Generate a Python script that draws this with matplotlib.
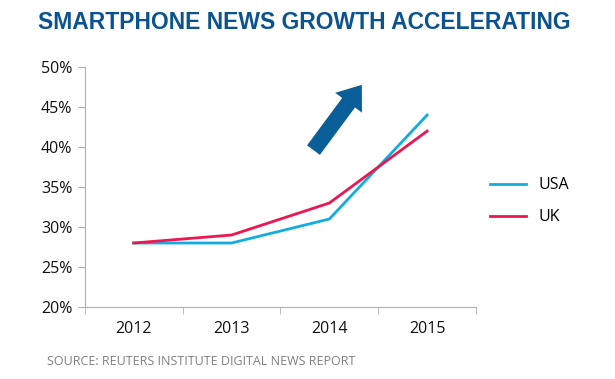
import matplotlib
matplotlib.use("Agg")
from matplotlib import pyplot as plt
from matplotlib.ticker import FixedLocator

years = ["2012", "2013", "2014", "2015"]
usa = [28, 28, 31, 44]
uk = [28, 29, 33, 42]
yticks = [20, 25, 30, 35, 40, 45, 50]

plt.rcParams['font.family'] = ['Open Sans', 'DejaVu Sans']

fig = plt.figure(figsize=(6.15, 3.79), dpi=100)
ax = fig.add_axes([0.138, 0.19, 0.636, 0.633])

x = list(range(len(years)))
ax.plot(x, usa, color="#12ade0", lw=2, label="USA")
ax.plot(x, uk, color="#ee1650", lw=2, label="UK")

ax.set_xlim(-0.5, len(years) - 0.5)
ax.set_ylim(20, 50)
ax.set_yticks(yticks)
ax.set_yticklabels([f"{v}%" for v in yticks], fontsize=11.5, color="#111111")
ax.set_xticks(x)
ax.set_xticklabels(years, fontsize=11.5, color="#111111")
ax.tick_params(axis="x", which="major", length=0, pad=10)
ax.xaxis.set_minor_locator(FixedLocator([i - 0.5 for i in range(len(years) + 1)]))
ax.tick_params(axis="x", which="minor", length=5, color="#b0b0b0")
ax.tick_params(axis="y", length=5, color="#b0b0b0", pad=4)

for s in ["top", "right"]:
    ax.spines[s].set_visible(False)
for s in ["left", "bottom"]:
    ax.spines[s].set_color("#b0b0b0")

ax.legend(loc="center left", bbox_to_anchor=(1.0, 0.44), frameon=False,
          fontsize=11.5, handlelength=2.2, labelspacing=1.0)

fig.text(0.495, 0.94, "SMARTPHONE NEWS GROWTH ACCELERATING", ha="center", va="center",
         fontsize=16.5, fontweight="bold", color="#0b5390", family="Liberation Sans")
fig.text(0.077, 0.045, "SOURCE: REUTERS INSTITUTE DIGITAL NEWS REPORT", ha="left",
         va="center", fontsize=9, color="#808080")

ax.annotate("", xy=(0.591, 0.782), xytext=(0.507, 0.598), xycoords="figure fraction",
            arrowprops=dict(arrowstyle="simple,head_length=1.6,head_width=2.4,tail_width=1.15",
                            mutation_scale=10, color="#0a5f98", lw=0))

fig.savefig("out.png", dpi=100)
